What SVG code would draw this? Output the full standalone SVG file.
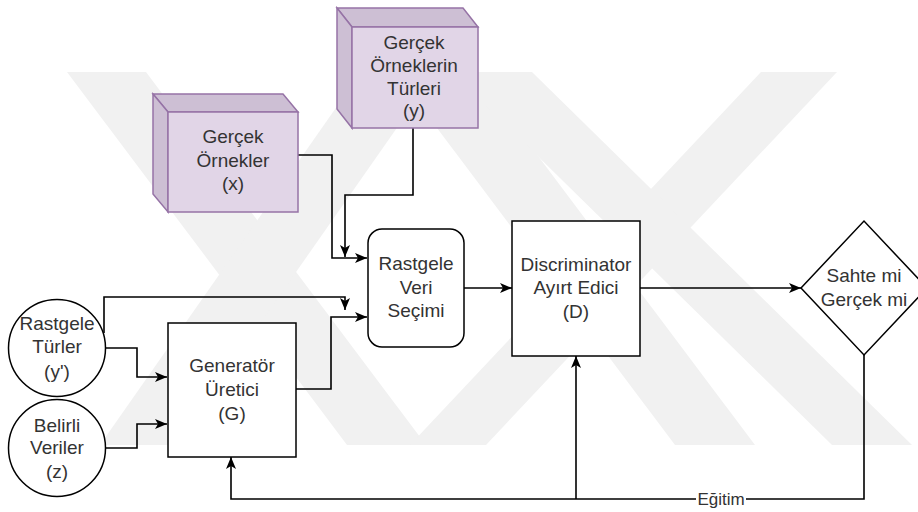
<svg xmlns="http://www.w3.org/2000/svg" width="918" height="512" viewBox="0 0 918 512">
<style>
.t{font-family:"Liberation Sans",Arial,sans-serif;font-size:19px;fill:#333333;text-anchor:middle}
.box{fill:#ffffff;stroke:#000000;stroke-width:1.5}
.cube{fill:#e1d5e7;stroke:#9673a6;stroke-width:1.5}
.cubeside{fill:#cdbfd4;stroke:#9673a6;stroke-width:1.5}
.e{fill:none;stroke:#000000;stroke-width:1.6}
.wm{fill:#f1f1f1}
</style>
<defs>
<marker id="ah" viewBox="0 0 12 10" refX="12" refY="5" markerWidth="12" markerHeight="10" markerUnits="userSpaceOnUse" orient="auto">
<path d="M0,0 L12,5 L0,10 L3,5 Z" fill="#000"/>
</marker>
</defs>
<rect width="918" height="512" fill="#ffffff"/>
<g id="watermark">
<polygon class="wm" points="67,72 146,72 426,445 347,445"/>
<polygon class="wm" points="100,445 175,445 436,72 361,72"/>
<polygon class="wm" points="410,445 486,445 837,72 761,72"/>
<polygon class="wm" points="395,72 475,72 755,445 675,445"/>
<polygon class="wm" points="452,72 532,72 912,445 832,445"/>
</g>
<g id="connectors">
<polyline class="e" points="298,155 332,155 332,258 367,258" marker-end="url(#ah)"/>
<polyline class="e" points="413,128 413,195 345,195 345,257" marker-end="url(#ah)"/>
<polyline class="e" points="104,333 104,297 345,297 345,310" marker-end="url(#ah)"/>
<polyline class="e" points="296,389 331,389 331,317 367,317" marker-end="url(#ah)"/>
<polyline class="e" points="105,348 137,348 137,377 167,377" marker-end="url(#ah)"/>
<polyline class="e" points="105,448 137,448 137,424 167,424" marker-end="url(#ah)"/>
<polyline class="e" points="464,288 512,288" marker-end="url(#ah)"/>
<polyline class="e" points="640,288 801,288" marker-end="url(#ah)"/>
<polyline class="e" points="864,355 864,499 231,499 231,457" marker-end="url(#ah)"/>
<polyline class="e" points="576,499 576,356" marker-end="url(#ah)"/>
<rect x="696" y="490" width="50" height="18" fill="#ffffff"/>
<text class="t" x="721" y="505" style="font-size:17px">Eğitim</text>
</g>
<g id="gercek-ornekler">
<polygon class="cubeside" points="153,94 283,94 298,112 168,112"/>
<polygon class="cubeside" points="153,94 168,112 168,212 153,194"/>
<rect class="cube" x="168" y="112" width="130" height="100"/>
<text class="t" x="233" y="143">Gerçek</text>
<text class="t" x="233" y="167">Örnekler</text>
<text class="t" x="233" y="190">(x)</text>
</g>
<g id="gercek-orneklerin-turleri">
<polygon class="cubeside" points="337,8 463,8 478,27 352,27"/>
<polygon class="cubeside" points="337,8 352,27 352,128 337,109"/>
<rect class="cube" x="352" y="27" width="126" height="101"/>
<text class="t" x="414" y="49">Gerçek</text>
<text class="t" x="414" y="72">Örneklerin</text>
<text class="t" x="414" y="95">Türleri</text>
<text class="t" x="414" y="117">(y)</text>
</g>
<g id="rastgele-turler">
<circle class="box" cx="57" cy="348" r="48.5"/>
<text class="t" x="57" y="330">Rastgele</text>
<text class="t" x="57" y="353">Türler</text>
<text class="t" x="57" y="378">(y')</text>
</g>
<g id="belirli-veriler">
<circle class="box" cx="57" cy="448" r="48.5"/>
<text class="t" x="57" y="432">Belirli</text>
<text class="t" x="57" y="454">Veriler</text>
<text class="t" x="57" y="478">(z)</text>
</g>
<g id="generator">
<rect class="box" x="168" y="323" width="128" height="134"/>
<text class="t" x="232" y="372">Generatör</text>
<text class="t" x="232" y="396">Üretici</text>
<text class="t" x="232" y="420">(G)</text>
</g>
<g id="rastgele-veri-secimi">
<rect class="box" x="368" y="229" width="96" height="118" rx="14" ry="14"/>
<text class="t" x="416" y="270">Rastgele</text>
<text class="t" x="416" y="294">Veri</text>
<text class="t" x="416" y="317">Seçimi</text>
</g>
<g id="discriminator">
<rect class="box" x="512" y="221" width="128" height="135"/>
<text class="t" x="576" y="271">Discriminator</text>
<text class="t" x="576" y="294">Ayırt Edici</text>
<text class="t" x="576" y="318">(D)</text>
</g>
<g id="sahte-mi">
<polygon class="box" points="801,288 864,221 927,288 864,355"/>
<text class="t" x="864" y="282">Sahte mi</text>
<text class="t" x="864" y="306">Gerçek mi</text>
</g>
</svg>
